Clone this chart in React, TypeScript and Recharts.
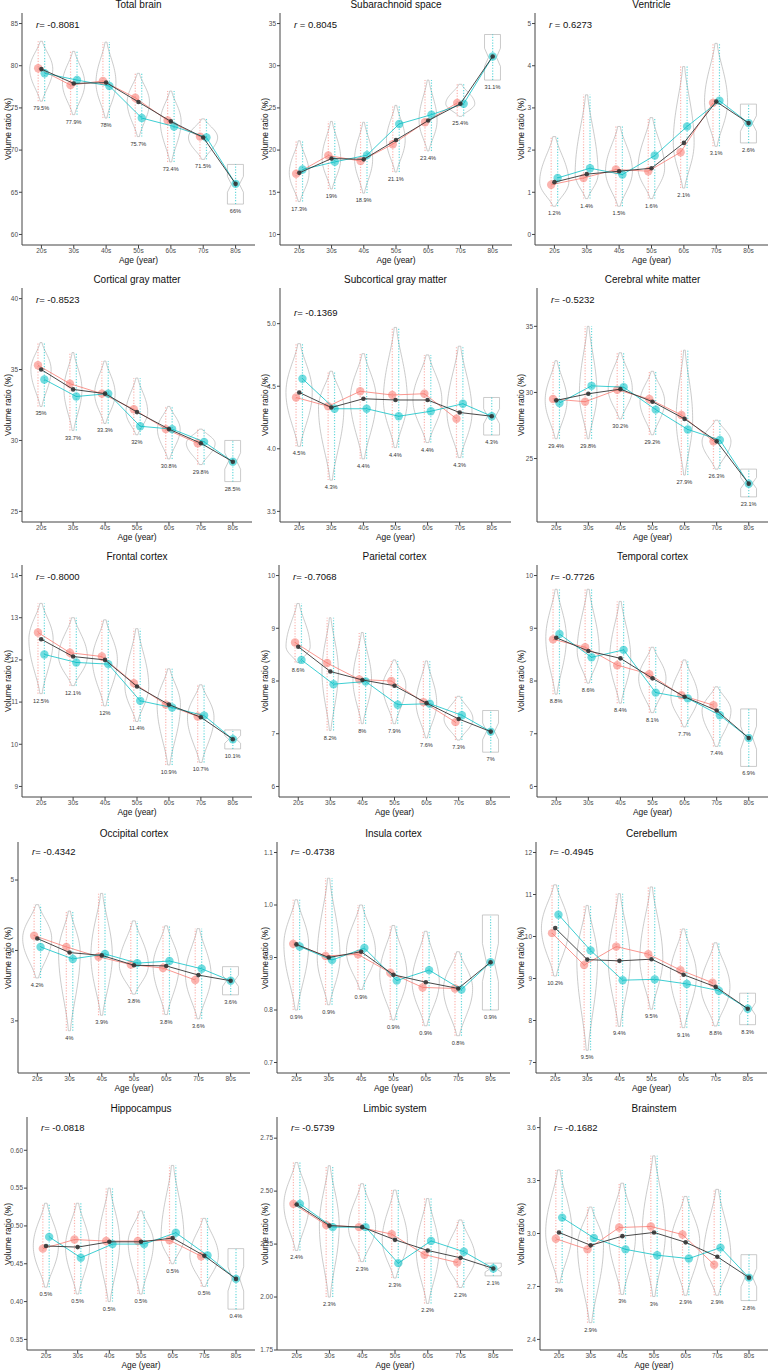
import React from 'react'
import { ComposedChart, Bar, Scatter, ErrorBar, XAxis, YAxis } from 'recharts'

const RED = '#F8766D'
const CYAN = '#00BFC4'
const DARK = '#333333'
const FONT = '"Liberation Sans", Arial, sans-serif'

const ages = ['20s', '30s', '40s', '50s', '60s', '70s', '80s']

// values: all subjects (black), red group, cyan group,
// violin extent (lo/hi) and the percentage printed under each violin
const totalAll = [79.6, 77.9, 78.0, 75.7, 73.4, 71.5, 66.0]
const totalF = [79.7, 77.7, 78.2, 76.2, 73.5, 71.6, null]
const totalM = [79.1, 78.3, 77.6, 73.8, 72.8, 71.5, 66.0]
const totalLo = [75.8, 74.2, 73.8, 71.6, 68.6, 68.9, 63.6]
const totalHi = [82.9, 81.7, 82.8, 79.1, 77.0, 73.7, 68.3]
const totalPct = ['79.5%', '77.9%', '78%', '75.7%', '73.4%', '71.5%', '66%']

const subAll = [17.3, 19.0, 18.9, 21.2, 23.5, 25.5, 31.1]
const subF = [17.2, 19.35, 18.7, 20.7, 23.3, 25.6, null]
const subM = [17.7, 18.6, 19.4, 23.1, 24.2, 25.5, 31.1]
const subLo = [13.9, 15.4, 14.9, 17.4, 19.9, 24.0, 28.3]
const subHi = [21.1, 23.4, 23.3, 25.3, 28.3, 27.8, 33.7]
const subPct = ['17.3%', '19%', '18.9%', '21.1%', '23.4%', '25.4%', '31.1%']

const ventAll = [1.24, 1.43, 1.5, 1.57, 2.17, 3.15, 2.64]
const ventF = [1.18, 1.34, 1.54, 1.5, 1.95, 3.12, null]
const ventM = [1.34, 1.57, 1.42, 1.87, 2.56, 3.17, 2.64]
const ventLo = [0.67, 0.85, 0.67, 0.85, 1.1, 2.09, 2.17]
const ventHi = [2.32, 3.31, 2.56, 2.77, 3.98, 4.53, 3.09]
const ventPct = ['1.2%', '1.4%', '1.5%', '1.6%', '2.1%', '3.1%', '2.6%']

const cgmAll = [35.0, 33.6, 33.3, 32.0, 30.8, 29.8, 28.5]
const cgmF = [35.3, 34.0, 33.3, 32.2, 30.8, 29.8, null]
const cgmM = [34.3, 33.1, 33.3, 31.0, 30.8, 29.9, 28.5]
const cgmLo = [32.4, 30.7, 31.2, 30.4, 28.7, 28.3, 27.1]
const cgmHi = [36.9, 36.2, 35.6, 34.4, 32.4, 30.8, 30.0]
const cgmPct = ['35%', '33.7%', '33.3%', '32%', '30.8%', '29.8%', '28.5%']

const sgmAll = [4.45, 4.33, 4.4, 4.39, 4.39, 4.29, 4.26]
const sgmF = [4.41, 4.34, 4.46, 4.43, 4.44, 4.24, null]
const sgmM = [4.56, 4.32, 4.32, 4.26, 4.3, 4.36, 4.26]
const sgmLo = [4.02, 3.75, 3.92, 4.01, 4.05, 3.93, 4.11]
const sgmHi = [4.84, 4.62, 4.76, 4.97, 4.75, 4.82, 4.41]
const sgmPct = ['4.5%', '4.3%', '4.4%', '4.4%', '4.4%', '4.3%', '4.3%']

const cwmAll = [29.4, 29.9, 30.25, 29.3, 28.0, 26.3, 23.1]
const cwmF = [29.5, 29.3, 30.2, 29.5, 28.3, 26.3, null]
const cwmM = [29.2, 30.5, 30.4, 28.7, 27.2, 26.4, 23.1]
const cwmLo = [26.5, 26.5, 28.0, 26.8, 23.75, 24.2, 22.1]
const cwmHi = [32.4, 35.0, 33.0, 31.6, 33.2, 27.9, 24.2]
const cwmPct = ['29.4%', '29.8%', '30.2%', '29.2%', '27.9%', '26.3%', '23.1%']

const frontAll = [12.49, 12.08, 12.0, 11.37, 10.94, 10.64, 10.12]
const frontF = [12.65, 12.17, 12.08, 11.45, 10.94, 10.66, null]
const frontM = [12.13, 11.94, 11.9, 11.03, 10.87, 10.68, 10.12]
const frontLo = [11.2, 11.39, 10.91, 10.54, 9.51, 9.57, 9.89]
const frontHi = [13.34, 13.0, 12.95, 12.74, 11.79, 11.41, 10.34]
const frontPct = ['12.5%', '12.1%', '12%', '11.4%', '10.9%', '10.7%', '10.1%']

const parAll = [8.65, 8.18, 8.02, 7.91, 7.58, 7.28, 7.04]
const parF = [8.73, 8.34, 8.03, 8.0, 7.6, 7.22, null]
const parM = [8.4, 7.94, 7.99, 7.55, 7.57, 7.35, 7.04]
const parLo = [8.35, 7.06, 7.19, 7.19, 6.92, 6.88, 6.65]
const parHi = [9.47, 9.2, 8.92, 8.4, 8.38, 7.71, 7.44]
const parPct = ['8.6%', '8.2%', '8%', '7.9%', '7.6%', '7.3%', '7%']

const tempAll = [8.82, 8.57, 8.43, 8.05, 7.7, 7.44, 6.92]
const tempF = [8.79, 8.64, 8.3, 8.13, 7.73, 7.54, null]
const tempM = [8.89, 8.45, 8.59, 7.78, 7.67, 7.35, 6.92]
const tempLo = [7.75, 7.96, 7.58, 7.4, 7.13, 6.76, 6.38]
const tempHi = [9.74, 9.74, 9.51, 8.64, 8.4, 7.89, 7.47]
const tempPct = ['8.8%', '8.6%', '8.4%', '8.1%', '7.7%', '7.4%', '6.9%']

const occAll = [4.17, 3.97, 3.93, 3.79, 3.78, 3.65, 3.57]
const occF = [4.21, 4.05, 3.91, 3.8, 3.75, 3.58, null]
const occM = [4.05, 3.88, 3.95, 3.82, 3.85, 3.74, 3.57]
const occLo = [3.61, 2.86, 3.08, 3.38, 3.09, 3.03, 3.37]
const occHi = [4.65, 4.56, 4.81, 4.42, 4.35, 4.31, 3.77]
const occPct = ['4.2%', '4%', '3.9%', '3.8%', '3.8%', '3.6%', '3.6%']

const insAll = [0.925, 0.9, 0.911, 0.867, 0.853, 0.841, 0.891]
const insF = [0.926, 0.903, 0.906, 0.871, 0.843, 0.841, null]
const insM = [0.921, 0.895, 0.918, 0.856, 0.876, 0.839, 0.891]
const insLo = [0.8, 0.81, 0.839, 0.781, 0.77, 0.751, 0.8]
const insHi = [1.01, 1.051, 1.0, 0.961, 0.95, 0.911, 0.981]
const insPct = ['0.9%', '0.9%', '0.9%', '0.9%', '0.9%', '0.8%', '0.9%']

const cbAll = [10.2, 9.45, 9.42, 9.46, 9.09, 8.8, 8.28]
const cbF = [10.08, 9.32, 9.76, 9.58, 9.2, 8.9, null]
const cbM = [10.52, 9.67, 8.96, 8.98, 8.87, 8.71, 8.28]
const cbLo = [9.06, 7.29, 7.86, 8.27, 7.83, 7.87, 7.9]
const cbHi = [11.23, 10.74, 11.02, 11.18, 10.18, 9.85, 8.65]
const cbPct = ['10.2%', '9.5%', '9.4%', '9.5%', '9.1%', '8.8%', '8.3%']

const hipAll = [0.4735, 0.472, 0.479, 0.479, 0.484, 0.4605, 0.43]
const hipF = [0.47, 0.482, 0.48, 0.48, 0.481, 0.46, null]
const hipM = [0.4855, 0.458, 0.476, 0.476, 0.491, 0.461, 0.43]
const hipLo = [0.419, 0.41, 0.4, 0.41, 0.45, 0.42, 0.39]
const hipHi = [0.53, 0.53, 0.55, 0.52, 0.58, 0.51, 0.47]
const hipPct = ['0.5%', '0.5%', '0.5%', '0.5%', '0.5%', '0.5%', '0.4%']

const limAll = [2.437, 2.337, 2.33, 2.27, 2.22, 2.185, 2.135]
const limF = [2.44, 2.34, 2.33, 2.297, 2.2, 2.163, null]
const limM = [2.44, 2.33, 2.33, 2.16, 2.265, 2.214, 2.135]
const limLo = [2.22, 2.0, 2.167, 2.09, 1.97, 2.045, 2.1]
const limHi = [2.635, 2.62, 2.535, 2.505, 2.465, 2.364, 2.16]
const limPct = ['2.4%', '2.3%', '2.3%', '2.3%', '2.2%', '2.2%', '2.1%']

const bsAll = [3.006, 2.933, 2.985, 3.006, 2.95, 2.868, 2.75]
const bsF = [2.97, 2.91, 3.034, 3.04, 2.994, 2.823, null]
const bsM = [3.09, 2.975, 2.91, 2.877, 2.858, 2.92, 2.75]
const bsLo = [2.72, 2.495, 2.655, 2.643, 2.65, 2.65, 2.62]
const bsHi = [3.36, 3.15, 3.285, 3.44, 3.21, 3.25, 2.88]
const bsPct = ['3%', '2.9%', '3%', '3%', '2.9%', '2.9%', '2.8%']

type Panel = {
  title: string
  r: number
  all: number[]
  f: (number | null)[]
  m: number[]
  lo: number[]
  hi: number[]
  pct: string[]
  ticks: number[]
  domain: [number, number]
  digits: number
}

const panels: Panel[] = [
  { title: 'Total brain', r: -0.8081, all: totalAll, f: totalF, m: totalM, lo: totalLo, hi: totalHi, pct: totalPct, ticks: [60, 65, 70, 75, 80, 85], domain: [58.75, 86.25], digits: 0 },
  { title: 'Subarachnoid space', r: 0.8045, all: subAll, f: subF, m: subM, lo: subLo, hi: subHi, pct: subPct, ticks: [10, 15, 20, 25, 30, 35], domain: [8.75, 36.25], digits: 0 },
  { title: 'Ventricle', r: 0.6273, all: ventAll, f: ventF, m: ventM, lo: ventLo, hi: ventHi, pct: ventPct, ticks: [0, 1, 2, 3, 4, 5], domain: [-0.25, 5.25], digits: 0 },
  { title: 'Cortical gray matter', r: -0.8523, all: cgmAll, f: cgmF, m: cgmM, lo: cgmLo, hi: cgmHi, pct: cgmPct, ticks: [25, 30, 35, 40], domain: [24.25, 40.75], digits: 0 },
  { title: 'Subcortical gray matter', r: -0.1369, all: sgmAll, f: sgmF, m: sgmM, lo: sgmLo, hi: sgmHi, pct: sgmPct, ticks: [3.5, 4.0, 4.5, 5.0], domain: [3.415, 5.285], digits: 1 },
  { title: 'Cerebral white matter', r: -0.5232, all: cwmAll, f: cwmF, m: cwmM, lo: cwmLo, hi: cwmHi, pct: cwmPct, ticks: [25, 30, 35], domain: [20.2, 37.9], digits: 0 },
  { title: 'Frontal cortex', r: -0.8, all: frontAll, f: frontF, m: frontM, lo: frontLo, hi: frontHi, pct: frontPct, ticks: [9, 10, 11, 12, 13, 14], domain: [8.75, 14.25], digits: 0 },
  { title: 'Parietal cortex', r: -0.7068, all: parAll, f: parF, m: parM, lo: parLo, hi: parHi, pct: parPct, ticks: [6, 7, 8, 9, 10], domain: [5.8, 10.2], digits: 0 },
  { title: 'Temporal cortex', r: -0.7726, all: tempAll, f: tempF, m: tempM, lo: tempLo, hi: tempHi, pct: tempPct, ticks: [6, 7, 8, 9, 10], domain: [5.8, 10.2], digits: 0 },
  { title: 'Occipital cortex', r: -0.4342, all: occAll, f: occF, m: occM, lo: occLo, hi: occHi, pct: occPct, ticks: [3, 4, 5], domain: [2.26, 5.54], digits: 0 },
  { title: 'Insula cortex', r: -0.4738, all: insAll, f: insF, m: insM, lo: insLo, hi: insHi, pct: insPct, ticks: [0.7, 0.8, 0.9, 1.0, 1.1], domain: [0.68, 1.12], digits: 1 },
  { title: 'Cerebellum', r: -0.4945, all: cbAll, f: cbF, m: cbM, lo: cbLo, hi: cbHi, pct: cbPct, ticks: [7, 8, 9, 10, 11, 12], domain: [6.75, 12.25], digits: 0 },
  { title: 'Hippocampus', r: -0.0818, all: hipAll, f: hipF, m: hipM, lo: hipLo, hi: hipHi, pct: hipPct, ticks: [0.35, 0.4, 0.45, 0.5, 0.55, 0.6], domain: [0.336, 0.644], digits: 2 },
  { title: 'Limbic system', r: -0.5739, all: limAll, f: limF, m: limM, lo: limLo, hi: limHi, pct: limPct, ticks: [1.75, 2.0, 2.25, 2.5, 2.75], domain: [1.75, 2.85], digits: 2 },
  { title: 'Brainstem', r: -0.1682, all: bsAll, f: bsF, m: bsM, lo: bsLo, hi: bsHi, pct: bsPct, ticks: [2.4, 2.7, 3.0, 3.3, 3.6], domain: [2.34, 3.66], digits: 1 },
]

// page layout in px
const rowTop = [13, 288, 565, 842, 1117]
const rowBottom = [245, 522, 797, 1073, 1350]
const colLeft = [0, 257, 513]
const plotLeft = [22, 280, 535, 22, 280, 537, 22, 279, 537, 18, 277, 536, 27, 277, 540]
const plotRight = [255, 512, 768, 252, 511, 768, 252, 510, 768, 250, 510, 767, 255, 513, 768]
const rOffset = [12, 12, 12, 12, 25, 12, 12, 12, 12, 10, 10, 10, 11, 11, 11]

function violinPath(cx: number, top: number, h: number, half: number, peak: number) {
  const p = Math.min(0.85, Math.max(0.15, peak))
  const n = 40
  const right: string[] = []
  const left: string[] = []
  for (let k = 0; k <= n; k++) {
    const t = k / n
    const s = t < p ? Math.sin((Math.PI / 2) * (t / p)) : Math.sin((Math.PI / 2) * ((1 - t) / (1 - p)))
    const hw = half * (0.1 + 0.9 * Math.pow(Math.max(s, 0), 1.4))
    const yy = top + t * h
    right.push(`${(cx + hw).toFixed(2)},${yy.toFixed(2)}`)
    left.unshift(`${(cx - hw).toFixed(2)},${yy.toFixed(2)}`)
  }
  return `M${right.join(' L')} L${left.join(' L')} Z`
}

function notchPath(cx: number, top: number, h: number, half: number) {
  const n = half * 0.5
  const y1 = top + h * 0.3
  const ym = top + h * 0.5
  const y2 = top + h * 0.7
  const b = top + h
  return `M${cx - half},${top} L${cx + half},${top} L${cx + half},${y1} L${cx + n},${ym} L${cx + half},${y2} L${cx + half},${b} L${cx - half},${b} L${cx - half},${y2} L${cx - n},${ym} L${cx - half},${y1} Z`
}

function ViolinShape(props: any) {
  const { x, y, width, height, payload, maxHalf } = props
  if (x == null || y == null || !payload) return null
  const top = Math.min(y, y + height)
  const h = Math.abs(height)
  const cx = x + (width || 0) / 2
  const half = maxHalf * payload.w
  const d = payload.small ? notchPath(cx, top, h, half) : violinPath(cx, top, h, half, payload.peak)
  return (
    <g>
      <path d={d} fill="none" stroke="#b5b5b5" strokeWidth={0.7} />
      <text x={cx} y={top + h + 7} textAnchor="middle" dominantBaseline="central" fontSize={5.6} fill="#333" fontFamily={FONT}>
        {payload.label}
      </text>
    </g>
  )
}

const dot = (r: number, fill: string, opacity: number) => (props: any) =>
  props.cx == null ? null : <circle cx={props.cx} cy={props.cy} r={r} fill={fill} fillOpacity={opacity} />

function PanelChart({ p, idx }: { p: Panel; idx: number }) {
  const row = Math.floor(idx / 3)
  const col = idx % 3
  const left = colLeft[col]
  const axisW = plotLeft[idx] - left
  const plotW = plotRight[idx] - plotLeft[idx]
  const plotH = rowBottom[row] - rowTop[row]
  const top = rowTop[row] - 16
  const width = plotRight[idx] - left
  const height = 16 + plotH + 22
  const unit = plotW / 7.2
  const maxHalf = unit * 0.45

  const spans = p.lo.slice(0, 6).map((v, i) => p.hi[i] - v)
  const minSpan = Math.min(...spans)
  const violins = ages.map((age, i) => ({
    x: i + 1,
    age,
    range: [p.lo[i], p.hi[i]],
    label: p.pct[i],
    small: i === 6,
    w: i === 6 ? 0.55 : Math.pow(minSpan / (p.hi[i] - p.lo[i]), 0.6),
    peak: (p.hi[i] - p.all[i]) / (p.hi[i] - p.lo[i]),
  }))

  const fPts = ages
    .map((_, i) => ({ x: i + 0.9, y: p.f[i] as number, err: [(p.f[i] as number) - p.lo[i], p.hi[i] - (p.f[i] as number)] }))
    .filter(d => d.y != null)
  const mPts = ages.map((_, i) => ({
    x: p.f[i] == null ? i + 1 : i + 1.1,
    y: p.m[i],
    err: [p.m[i] - p.lo[i], p.hi[i] - p.m[i]],
  }))
  const aPts = ages.map((_, i) => ({ x: i + 1, y: p.all[i] }))

  const tick = { fontSize: 6.5, fill: '#4d4d4d', fontFamily: FONT }

  return (
    <div style={{ position: 'absolute', left, top, width, height }}>
      <div style={{ position: 'absolute', left: axisW, width: plotW, top: 2, textAlign: 'center', fontSize: 10, lineHeight: '12px', color: '#111', whiteSpace: 'nowrap' }}>
        {p.title}
      </div>
      <ComposedChart width={width} height={height} data={violins} margin={{ top: 16, right: 0, bottom: 0, left: 0 }}>
        <XAxis
          dataKey="x"
          type="number"
          domain={[0.4, 7.6]}
          ticks={[1, 2, 3, 4, 5, 6, 7]}
          interval={0}
          allowDataOverflow
          tickFormatter={v => ages[v - 1]}
          height={22}
          tickSize={3}
          tickMargin={0}
          tick={tick}
          stroke="#444"
        />
        <YAxis
          dataKey="y"
          type="number"
          domain={p.domain}
          ticks={p.ticks}
          interval={0}
          allowDataOverflow
          tickFormatter={v => Number(v).toFixed(p.digits)}
          width={axisW}
          tickSize={3}
          tickMargin={1}
          tick={tick}
          stroke="#444"
        />
        <Bar dataKey="range" barSize={unit * 0.9} shape={(props: any) => <ViolinShape {...props} maxHalf={maxHalf} />} isAnimationActive={false} />
        <Scatter data={fPts} dataKey="y" line={{ stroke: RED, strokeWidth: 0.9, strokeOpacity: 0.85 }} lineType="joint" shape={dot(4.2, RED, 0.55)} isAnimationActive={false}>
          <ErrorBar dataKey="err" direction="y" width={0} stroke={RED} strokeWidth={1.2} strokeOpacity={0.55} strokeDasharray="1.2 1.6" />
        </Scatter>
        <Scatter data={mPts} dataKey="y" line={{ stroke: CYAN, strokeWidth: 0.9, strokeOpacity: 0.85 }} lineType="joint" shape={dot(4.2, CYAN, 0.55)} isAnimationActive={false}>
          <ErrorBar dataKey="err" direction="y" width={0} stroke={CYAN} strokeWidth={1.2} strokeOpacity={0.6} strokeDasharray="1.2 1.6" />
        </Scatter>
        <Scatter data={aPts} dataKey="y" line={{ stroke: DARK, strokeWidth: 0.9 }} lineType="joint" shape={dot(2.3, DARK, 0.9)} isAnimationActive={false} />
      </ComposedChart>
      <div style={{ position: 'absolute', left: axisW + 14, top: 16 + rOffset[idx] - 7, fontSize: 9.5, lineHeight: '14px', color: '#111', whiteSpace: 'nowrap' }}>
        <i>r</i>
        {p.r < 0 ? '= ' : ' = '}
        {p.r.toFixed(4)}
      </div>
      <div style={{ position: 'absolute', left: 7.5, top: 16 + plotH / 2, transform: 'translate(-50%, -50%) rotate(-90deg)', fontSize: 8.4, color: '#111', whiteSpace: 'nowrap' }}>
        Volume ratio (%)
      </div>
      <div style={{ position: 'absolute', left: axisW + plotW / 2, top: 16 + plotH + 15, transform: 'translate(-50%, -50%)', fontSize: 8.4, color: '#111', whiteSpace: 'nowrap' }}>
        Age (year)
      </div>
    </div>
  )
}

export default function App() {
  return (
    <div style={{ position: 'absolute', left: 0, top: 0, width: 770, height: 1370, overflow: 'hidden', background: '#fff', fontFamily: FONT }}>
      {panels.map((p, i) => (
        <PanelChart key={p.title} p={p} idx={i} />
      ))}
    </div>
  )
}
